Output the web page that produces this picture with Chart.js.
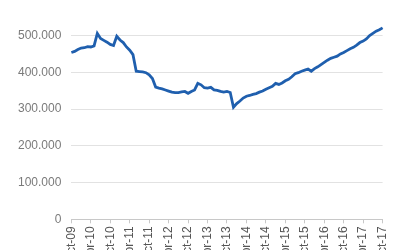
<!DOCTYPE html>
<html>
<head>
<meta charset="utf-8">
<script src="https://cdn.jsdelivr.net/npm/chart.js@4"></script>
<style>
  html, body { margin: 0; padding: 0; background: #fff; overflow: hidden; }
  #wrap { width: 400px; height: 250px; overflow: hidden; }
</style>
</head>
<body>
<div id="wrap"><canvas id="grafico" width="400" height="264"></canvas></div>
<script>
// meses oct-09 .. oct-17
const meses = ['ene', 'feb', 'mar', 'abr', 'may', 'jun', 'jul', 'ago', 'sep', 'oct', 'nov', 'dic'];
const categorias = [];
for (let i = 0; i < 97; i++) {
    const m = (9 + i) % 12;
    const a = 9 + Math.floor((9 + i) / 12);
    categorias.push(meses[m] + '-' + String(a).padStart(2, '0'));
}

const valores = [
    454000, 457000, 462000, 466000, 467000, 470000, 469000, 472000, 506000, 492000,
    487000, 482000, 476000, 473000, 498000, 488000, 481000, 469000, 460000, 448000,
    403000, 402000, 401000, 399000, 393000, 383000, 360000, 357000, 355000, 352000,
    349000, 346000, 345000, 345000, 347000, 348000, 343000, 348000, 352000, 370000,
    366000, 358000, 357000, 359000, 352000, 351000, 348000, 346000, 348000, 345000,
    305000, 315000, 322000, 330000, 335000, 337000, 340000, 342000, 346000, 349000,
    354000, 358000, 362000, 370000, 367000, 371000, 377000, 381000, 388000, 396000,
    399000, 403000, 406000, 409000, 403000, 410000, 415000, 421000, 427000, 433000,
    438000, 441000, 444000, 450000, 454000, 459000, 464000, 468000, 474000, 481000,
    485000, 491000, 500000, 506000, 512000, 516000, 521000
];

const ejeY = [0, 100000, 200000, 300000, 400000, 500000];

function formato(v) {
    return String(v).replace(/\B(?=(\d{3})+(?!\d))/g, '.');
}

const ctx = document.getElementById('grafico').getContext('2d');
new Chart(ctx, {
    type: 'line',
    data: {
        labels: categorias,
        datasets: [{
            data: valores,
            borderColor: '#1f5fae',
            borderWidth: 2.8,
            pointRadius: 0,
            tension: 0,
            fill: false
        }]
    },
    options: {
        responsive: false,
        animation: false,
        layout: { padding: { left: 8, right: 14, top: 8, bottom: 0 } },
        plugins: { legend: { display: false }, tooltip: { enabled: false } },
        scales: {
            x: {
                grid: { drawOnChartArea: false, drawTicks: true, tickLength: 4, color: '#c8c8c8' },
                border: { display: true, color: '#c8c8c8' },
                ticks: {
                    autoSkip: false,
                    maxRotation: 90,
                    minRotation: 90,
                    padding: 3,
                    color: '#555',
                    font: { family: 'Liberation Sans', size: 12 },
                    callback: function (v, i) {
                        return i % 6 === 0 ? categorias[i] : null;
                    }
                }
            },
            y: {
                min: 0,
                max: 550000,
                afterBuildTicks: function (axis) {
                    axis.ticks = ejeY.map(v => ({ value: v }));
                },
                grid: { drawTicks: false, color: '#e2e2e2' },
                border: { display: false },
                ticks: {
                    padding: 10,
                    color: '#7a7a7a',
                    font: { family: 'Liberation Sans', size: 12 },
                    callback: function (v) { return formato(v); }
                }
            }
        }
    }
});
</script>
</body>
</html>
